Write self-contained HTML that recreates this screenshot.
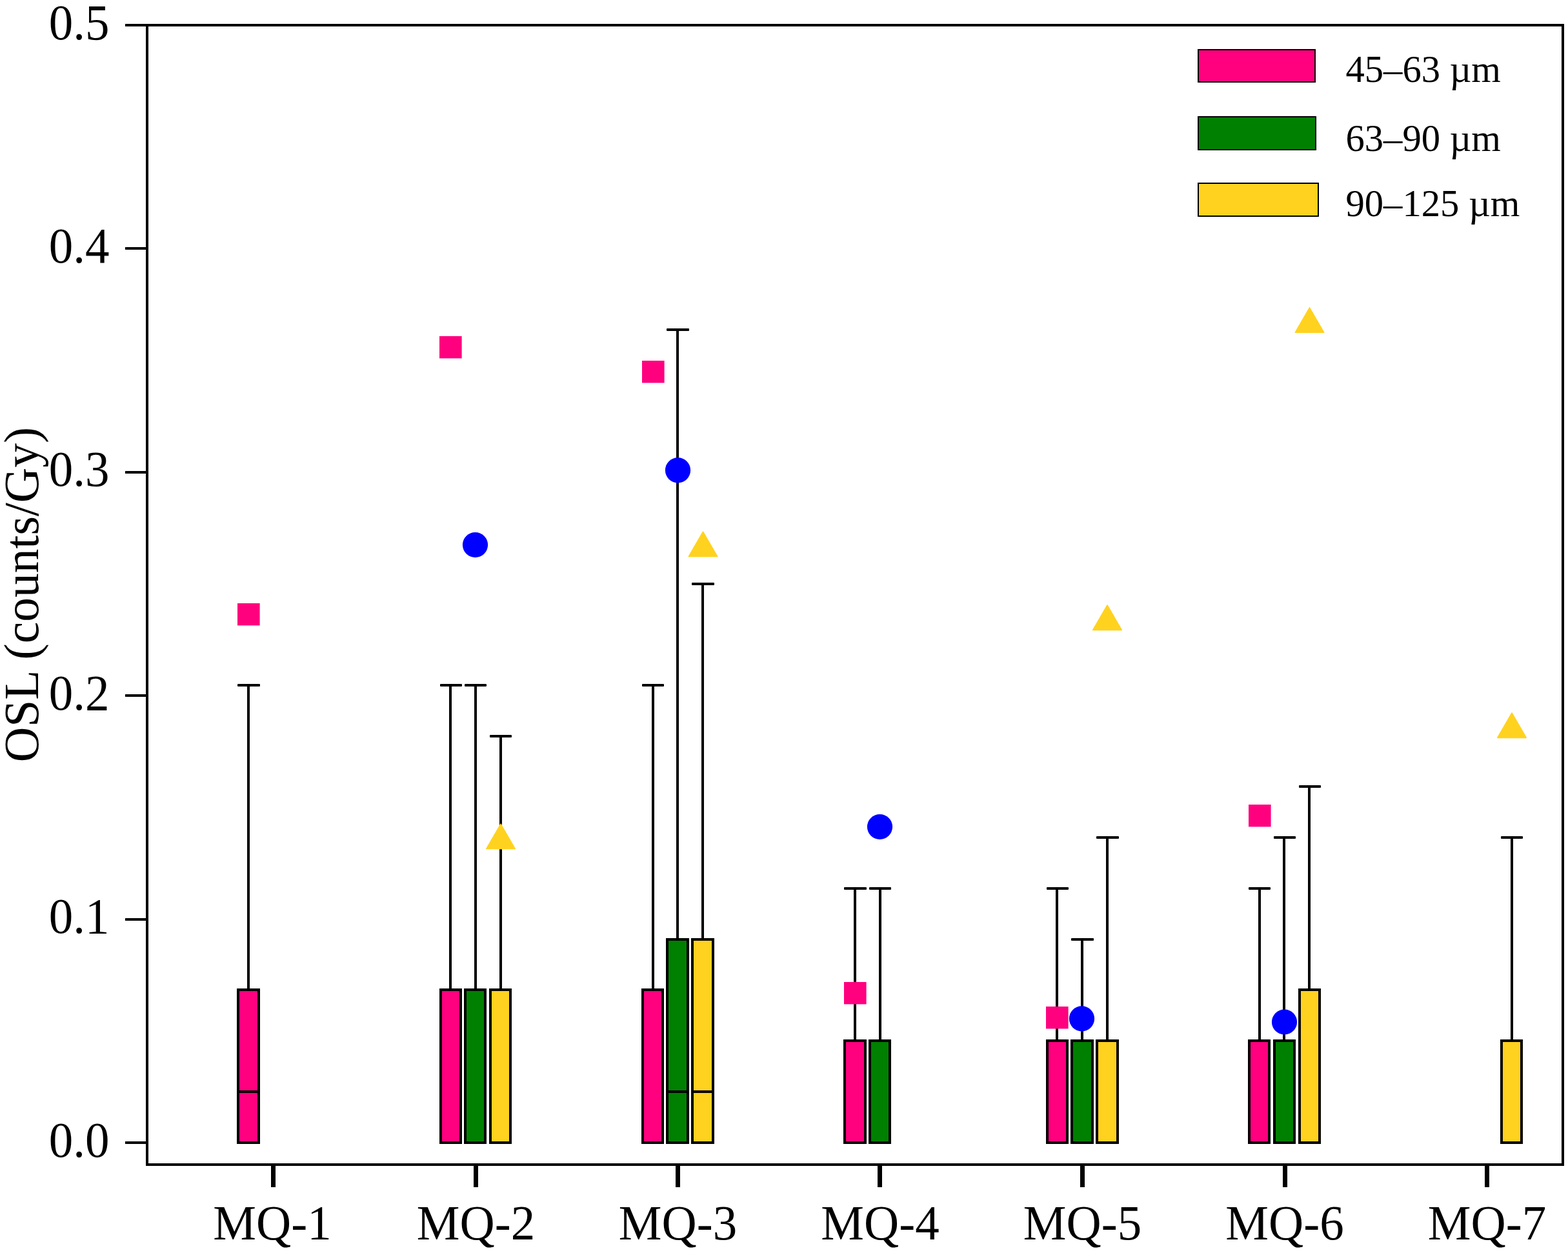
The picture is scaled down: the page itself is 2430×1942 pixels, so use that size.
<!DOCTYPE html>
<html lang="en"><head><meta charset="utf-8"><title>OSL (counts/Gy) box chart</title>
<style>html,body{margin:0;padding:0;background:#fff;}body{width:2430px;height:1942px;overflow:hidden;}svg{display:block;}text{font-family:"Liberation Serif","DejaVu Serif",serif;fill:#000;}.tk{font-size:75px;}.lg{font-size:58.6px;}.yl{font-size:75.5px;}</style></head><body>
<svg width="2430" height="1942" viewBox="0 0 2430 1942">
<rect x="0" y="0" width="2430" height="1942" fill="#ffffff"/>
<g fill="#000">
<rect x="383" y="1062" width="4" height="472"/>
<rect x="368" y="1060" width="35" height="4" rx="1"/>
<rect x="369" y="1534" width="32" height="237" fill="#ff007f" stroke="#000" stroke-width="4" stroke-linejoin="miter"/>
<rect x="367" y="1690" width="36" height="4"/>
<rect x="696" y="1062" width="4" height="472"/>
<rect x="682" y="1060" width="34" height="4" rx="1"/>
<rect x="683" y="1534" width="31" height="237" fill="#ff007f" stroke="#000" stroke-width="4" stroke-linejoin="miter"/>
<rect x="735" y="1062" width="4" height="472"/>
<rect x="720" y="1060" width="34" height="4" rx="1"/>
<rect x="721" y="1534" width="31" height="237" fill="#008000" stroke="#000" stroke-width="4" stroke-linejoin="miter"/>
<rect x="774" y="1141" width="4" height="393"/>
<rect x="759" y="1139" width="34" height="4" rx="1"/>
<rect x="760" y="1534" width="31" height="237" fill="#ffd21f" stroke="#000" stroke-width="4" stroke-linejoin="miter"/>
<rect x="1010" y="1062" width="4" height="472"/>
<rect x="995" y="1060" width="34" height="4" rx="1"/>
<rect x="996" y="1534" width="31" height="237" fill="#ff007f" stroke="#000" stroke-width="4" stroke-linejoin="miter"/>
<rect x="1048" y="511" width="4" height="945"/>
<rect x="1033" y="509" width="35" height="4" rx="1"/>
<rect x="1034" y="1456" width="32" height="315" fill="#008000" stroke="#000" stroke-width="4" stroke-linejoin="miter"/>
<rect x="1032" y="1690" width="36" height="4"/>
<rect x="1087" y="905" width="4" height="551"/>
<rect x="1072" y="903" width="35" height="4" rx="1"/>
<rect x="1073" y="1456" width="32" height="315" fill="#ffd21f" stroke="#000" stroke-width="4" stroke-linejoin="miter"/>
<rect x="1071" y="1690" width="36" height="4"/>
<rect x="1323" y="1377" width="4" height="236"/>
<rect x="1308" y="1375" width="35" height="4" rx="1"/>
<rect x="1309" y="1613" width="32" height="158" fill="#ff007f" stroke="#000" stroke-width="4" stroke-linejoin="miter"/>
<rect x="1362" y="1377" width="4" height="236"/>
<rect x="1347" y="1375" width="34" height="4" rx="1"/>
<rect x="1348" y="1613" width="31" height="158" fill="#008000" stroke="#000" stroke-width="4" stroke-linejoin="miter"/>
<rect x="1636" y="1377" width="4" height="236"/>
<rect x="1622" y="1375" width="34" height="4" rx="1"/>
<rect x="1623" y="1613" width="31" height="158" fill="#ff007f" stroke="#000" stroke-width="4" stroke-linejoin="miter"/>
<rect x="1675" y="1456" width="4" height="157"/>
<rect x="1660" y="1454" width="35" height="4" rx="1"/>
<rect x="1661" y="1613" width="32" height="158" fill="#008000" stroke="#000" stroke-width="4" stroke-linejoin="miter"/>
<rect x="1714" y="1298" width="4" height="315"/>
<rect x="1699" y="1296" width="35" height="4" rx="1"/>
<rect x="1700" y="1613" width="32" height="158" fill="#ffd21f" stroke="#000" stroke-width="4" stroke-linejoin="miter"/>
<rect x="1950" y="1377" width="4" height="236"/>
<rect x="1935" y="1375" width="34" height="4" rx="1"/>
<rect x="1936" y="1613" width="31" height="158" fill="#ff007f" stroke="#000" stroke-width="4" stroke-linejoin="miter"/>
<rect x="1988" y="1298" width="4" height="315"/>
<rect x="1974" y="1296" width="34" height="4" rx="1"/>
<rect x="1975" y="1613" width="31" height="158" fill="#008000" stroke="#000" stroke-width="4" stroke-linejoin="miter"/>
<rect x="2027" y="1219" width="4" height="315"/>
<rect x="2013" y="1217" width="34" height="4" rx="1"/>
<rect x="2014" y="1534" width="31" height="237" fill="#ffd21f" stroke="#000" stroke-width="4" stroke-linejoin="miter"/>
<rect x="2341" y="1298" width="4" height="315"/>
<rect x="2326" y="1296" width="34" height="4" rx="1"/>
<rect x="2327" y="1613" width="31" height="158" fill="#ffd21f" stroke="#000" stroke-width="4" stroke-linejoin="miter"/>
</g>
<rect x="368" y="935" width="34.6" height="34.4" fill="#ff007f"/>
<rect x="681" y="521" width="34.6" height="34.4" fill="#ff007f"/>
<circle cx="736.50" cy="844.50" r="19.6" fill="#0000ff"/>
<polygon points="776.00,1277.20 798.30,1315.60 753.70,1315.60" fill="#ffd21f" stroke="#ffd21f" stroke-width="1.5" stroke-linejoin="round"/>
<rect x="995" y="559" width="34.6" height="34.4" fill="#ff007f"/>
<circle cx="1050.50" cy="728.80" r="19.6" fill="#0000ff"/>
<polygon points="1089.50,824.20 1111.80,862.60 1067.20,862.60" fill="#ffd21f" stroke="#ffd21f" stroke-width="1.5" stroke-linejoin="round"/>
<rect x="1308" y="1522" width="34.6" height="34.4" fill="#ff007f"/>
<circle cx="1363.50" cy="1281.50" r="19.6" fill="#0000ff"/>
<rect x="1621" y="1560" width="34.6" height="34.4" fill="#ff007f"/>
<circle cx="1676.50" cy="1578.80" r="19.6" fill="#0000ff"/>
<polygon points="1716.00,938.00 1738.30,976.40 1693.70,976.40" fill="#ffd21f" stroke="#ffd21f" stroke-width="1.5" stroke-linejoin="round"/>
<rect x="1935" y="1247" width="34.6" height="34.4" fill="#ff007f"/>
<circle cx="1990.50" cy="1584.00" r="19.6" fill="#0000ff"/>
<polygon points="2029.50,476.90 2051.80,515.30 2007.20,515.30" fill="#ffd21f" stroke="#ffd21f" stroke-width="1.5" stroke-linejoin="round"/>
<polygon points="2343.00,1105.00 2365.30,1143.40 2320.70,1143.40" fill="#ffd21f" stroke="#ffd21f" stroke-width="1.5" stroke-linejoin="round"/>
<g fill="#000" shape-rendering="crispEdges">
<rect x="194" y="37" width="2230" height="4"/>
<rect x="226" y="37" width="4" height="1770"/>
<rect x="2420" y="37" width="4" height="1770"/>
<rect x="226" y="1803" width="2198" height="4"/>
<rect x="194" y="1769" width="34" height="4"/>
<rect x="194" y="1423" width="34" height="4"/>
<rect x="194" y="1076" width="34" height="4"/>
<rect x="194" y="730" width="34" height="4"/>
<rect x="194" y="383" width="34" height="4"/>
<rect x="420" y="1805" width="7" height="35"/>
<rect x="734" y="1805" width="7" height="35"/>
<rect x="1047" y="1805" width="7" height="35"/>
<rect x="1360" y="1805" width="7" height="35"/>
<rect x="1674" y="1805" width="7" height="35"/>
<rect x="1988" y="1805" width="7" height="35"/>
<rect x="2301" y="1805" width="7" height="35"/>
</g>
<text class="tk" transform="translate(169.5,1792.60) scale(1,1.03)" text-anchor="end">0.0</text>
<text class="tk" transform="translate(169.5,1446.20) scale(1,1.03)" text-anchor="end">0.1</text>
<text class="tk" transform="translate(169.5,1099.80) scale(1,1.03)" text-anchor="end">0.2</text>
<text class="tk" transform="translate(169.5,753.40) scale(1,1.03)" text-anchor="end">0.3</text>
<text class="tk" transform="translate(169.5,407.00) scale(1,1.03)" text-anchor="end">0.4</text>
<text class="tk" transform="translate(169.5,60.60) scale(1,1.03)" text-anchor="end">0.5</text>
<text class="tk" transform="translate(422.00,1921.3) scale(1,1.022)" text-anchor="middle">MQ-1</text>
<text class="tk" transform="translate(737.50,1921.3) scale(1,1.022)" text-anchor="middle">MQ-2</text>
<text class="tk" transform="translate(1050.50,1921.3) scale(1,1.022)" text-anchor="middle">MQ-3</text>
<text class="tk" transform="translate(1364.00,1921.3) scale(1,1.022)" text-anchor="middle">MQ-4</text>
<text class="tk" transform="translate(1677.50,1921.3) scale(1,1.022)" text-anchor="middle">MQ-5</text>
<text class="tk" transform="translate(1991.00,1921.3) scale(1,1.022)" text-anchor="middle">MQ-6</text>
<text class="tk" transform="translate(2304.50,1921.3) scale(1,1.022)" text-anchor="middle">MQ-7</text>
<text class="yl" transform="translate(59.3,921.5) rotate(-90) scale(1,1.02)" text-anchor="middle">OSL (counts/Gy)</text>
<rect x="1857" y="77" width="181" height="50" fill="#ff007f" stroke="#000" stroke-width="2"/>
<text class="lg" transform="translate(2085.5,126.80) scale(1,1.022)">45–63 µm</text>
<rect x="1857" y="181" width="182" height="51" fill="#008000" stroke="#000" stroke-width="2"/>
<text class="lg" transform="translate(2085.5,234.40) scale(1,1.022)">63–90 µm</text>
<rect x="1857" y="284" width="186" height="51" fill="#ffd21f" stroke="#000" stroke-width="2"/>
<text class="lg" transform="translate(2085.5,334.70) scale(1,1.022)">90–125 µm</text>
</svg></body></html>
